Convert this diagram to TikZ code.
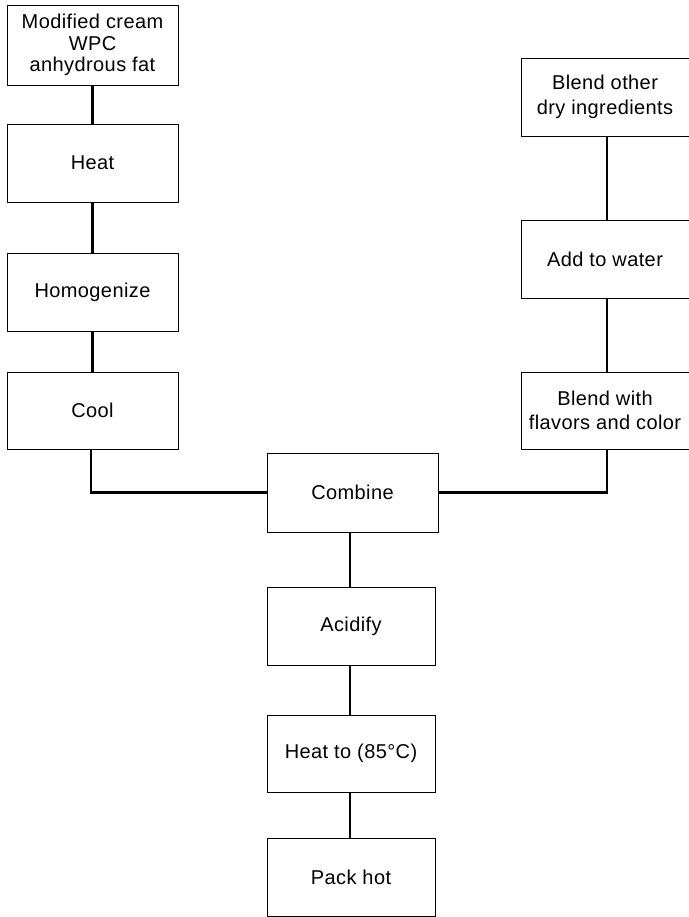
\documentclass[tikz,border=0pt]{standalone}
\usepackage{fontspec}
\setmainfont{Liberation Sans}[LetterSpace=2]
\usetikzlibrary{calc}

\begin{document}
\begin{tikzpicture}[
  x=1pt, y=-1pt,
  box/.style={
    draw=black,
    line width=0.9pt,
    align=center,
    font=\fontsize{20}{21.5}\selectfont,
    inner sep=0pt,
    minimum width=171pt,
    minimum height=78pt
  },
  conn/.style={draw=black, line width=2.4pt}
]
\useasboundingbox (0,0) rectangle (688,917);

% left column
\node[box, minimum height=80pt] (cream) at (92.5,45) {Modified cream\\WPC\\anhydrous fat};
\node[box] (heat) at (92.5,163) {Heat};
\node[box] (homog) at (92.5,292) {Homogenize};
\node[box, minimum height=77pt] (cool) at (92.5,410.5) {Cool};

% right column
\node[box, minimum width=168pt] (dry) at (605,97) {Blend other\\[3pt]dry ingredients};
\node[box, minimum width=168pt] (water) at (605,259) {Add to water};
\node[box, minimum width=168pt, minimum height=77pt] (flavor) at (605,410.5) {Blend with\\[3pt]flavors and color};

% middle column
\node[box, minimum height=79pt] (combine) at (352.5,492.5) {Combine};
\node[box, minimum width=168pt] (acid) at (351,626) {Acidify};
\node[box, minimum width=168pt, minimum height=77pt] (heatto) at (351,753.5) {Heat to (85°C)};
\node[box, minimum width=168pt] (pack) at (351,877) {Pack hot};

\draw[conn] (cream) -- (heat);
\draw[conn] (heat) -- (homog);
\draw[conn] (homog) -- (cool);
\draw[conn] ([xshift=-1.5pt]cool.south) |- (combine.west);

\draw[conn] ([xshift=2pt]dry.south) -- ([xshift=2pt]water.north);
\draw[conn] ([xshift=2pt]water.south) -- ([xshift=2pt]flavor.north);
\draw[conn] ([xshift=2pt]flavor.south) |- (combine.east);

\draw[conn] ([xshift=-1pt]acid.north) -- ([xshift=-1pt]acid.north |- combine.south);
\draw[conn] ([xshift=-1pt]acid.south) -- ([xshift=-1pt]heatto.north);
\draw[conn] ([xshift=-1pt]heatto.south) -- ([xshift=-1pt]pack.north);
\end{tikzpicture}
\end{document}
